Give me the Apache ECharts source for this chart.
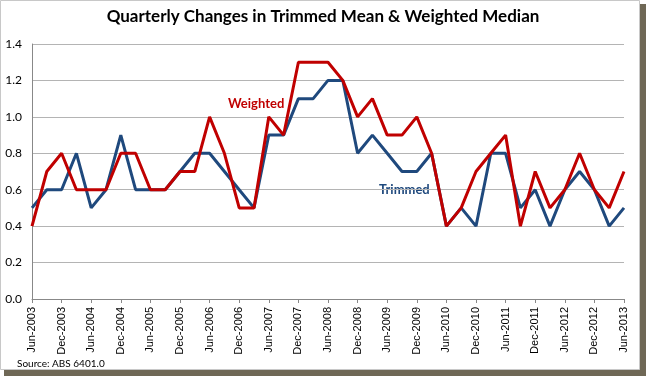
<!DOCTYPE html>
<html><head><meta charset="utf-8">
<script src="https://cdn.jsdelivr.net/npm/echarts@6/dist/echarts.min.js"></script>
<style>html,body{margin:0;padding:0;background:#fff;}#c{width:646px;height:376px;}</style>
</head><body><div id="c"></div>
<script>
const categories = ['Jun-2003','Sep-2003','Dec-2003','Mar-2004','Jun-2004','Sep-2004','Dec-2004','Mar-2005','Jun-2005','Sep-2005','Dec-2005','Mar-2006','Jun-2006','Sep-2006','Dec-2006','Mar-2007','Jun-2007','Sep-2007','Dec-2007','Mar-2008','Jun-2008','Sep-2008','Dec-2008','Mar-2009','Jun-2009','Sep-2009','Dec-2009','Mar-2010','Jun-2010','Sep-2010','Dec-2010','Mar-2011','Jun-2011','Sep-2011','Dec-2011','Mar-2012','Jun-2012','Sep-2012','Dec-2012','Mar-2013','Jun-2013'];
const trimmed = [0.5,0.6,0.6,0.8,0.5,0.6,0.9,0.6,0.6,0.6,0.7,0.8,0.8,0.7,0.6,0.5,0.9,0.9,1.1,1.1,1.2,1.2,0.8,0.9,0.8,0.7,0.7,0.8,0.4,0.5,0.4,0.8,0.8,0.5,0.6,0.4,0.6,0.7,0.6,0.4,0.5];
const weighted = [0.4,0.7,0.8,0.6,0.6,0.6,0.8,0.8,0.6,0.6,0.7,0.7,1.0,0.8,0.5,0.5,1.0,0.9,1.3,1.3,1.3,1.2,1.0,1.1,0.9,0.9,1.0,0.8,0.4,0.5,0.7,0.8,0.9,0.4,0.7,0.5,0.6,0.8,0.6,0.5,0.7];
const titleText = 'Quarterly Changes in Trimmed Mean & Weighted Median';
const sourceText = 'Source: ABS 6401.0';

const chart = echarts.init(document.getElementById('c'), null, {renderer:'canvas'});
chart.setOption({
  animation:false,
  backgroundColor:'#ffffff',
  graphic:[
    {type:'rect', z:-10, shape:{x:4,y:4,width:642,height:372}, style:{fill:'#6f6856'}},
    {type:'rect', z:-9, shape:{x:0.5,y:0.5,width:639,height:369}, style:{fill:'#ffffff',stroke:'#c8c8c8',lineWidth:1}},
    {type:'text', left:'center', top:8, style:{text:titleText, font:'bold 17px Lato, "Open Sans", sans-serif', fill:'#000'}},
    {type:'text', left:17, top:359, style:{text:sourceText, font:'10px Lato, sans-serif', fill:'#000'}},
    {type:'text', left:228, top:97, style:{text:'Weighted', font:'bold 13px Lato, sans-serif', fill:'#C00000'}},
    {type:'text', left:379, top:183, style:{text:'Trimmed', font:'bold 13px Lato, sans-serif', fill:'#1F497D'}}
  ],
  grid:{left:32, right:22, top:44, bottom:77, containLabel:false},
  xAxis:{
    type:'category', data:categories, boundaryGap:false,
    axisLine:{lineStyle:{color:'#888',width:1}},
    axisTick:{show:true, interval:1, length:4, lineStyle:{color:'#888'}},
    axisLabel:{interval:1, rotate:90, margin:8, color:'#000', fontSize:11, fontFamily:'"Liberation Sans", sans-serif'},
    splitLine:{show:false}
  },
  yAxis:{
    type:'value', min:0, max:1.4, interval:0.2,
    axisLine:{show:true, lineStyle:{color:'#888'}},
    axisTick:{show:false},
    axisLabel:{formatter:v=>v.toFixed(1), color:'#000', fontSize:12, fontFamily:'Lato, sans-serif', margin:10},
    splitLine:{lineStyle:{color:'#b4b4b4',width:1}}
  },
  series:[
    {name:'Trimmed', type:'line', data:trimmed, symbol:'none', lineStyle:{color:'#1F497D',width:3}, itemStyle:{color:'#1F497D'}},
    {name:'Weighted', type:'line', data:weighted, symbol:'none', lineStyle:{color:'#C00000',width:3}, itemStyle:{color:'#C00000'}}
  ]
});
</script></body></html>
